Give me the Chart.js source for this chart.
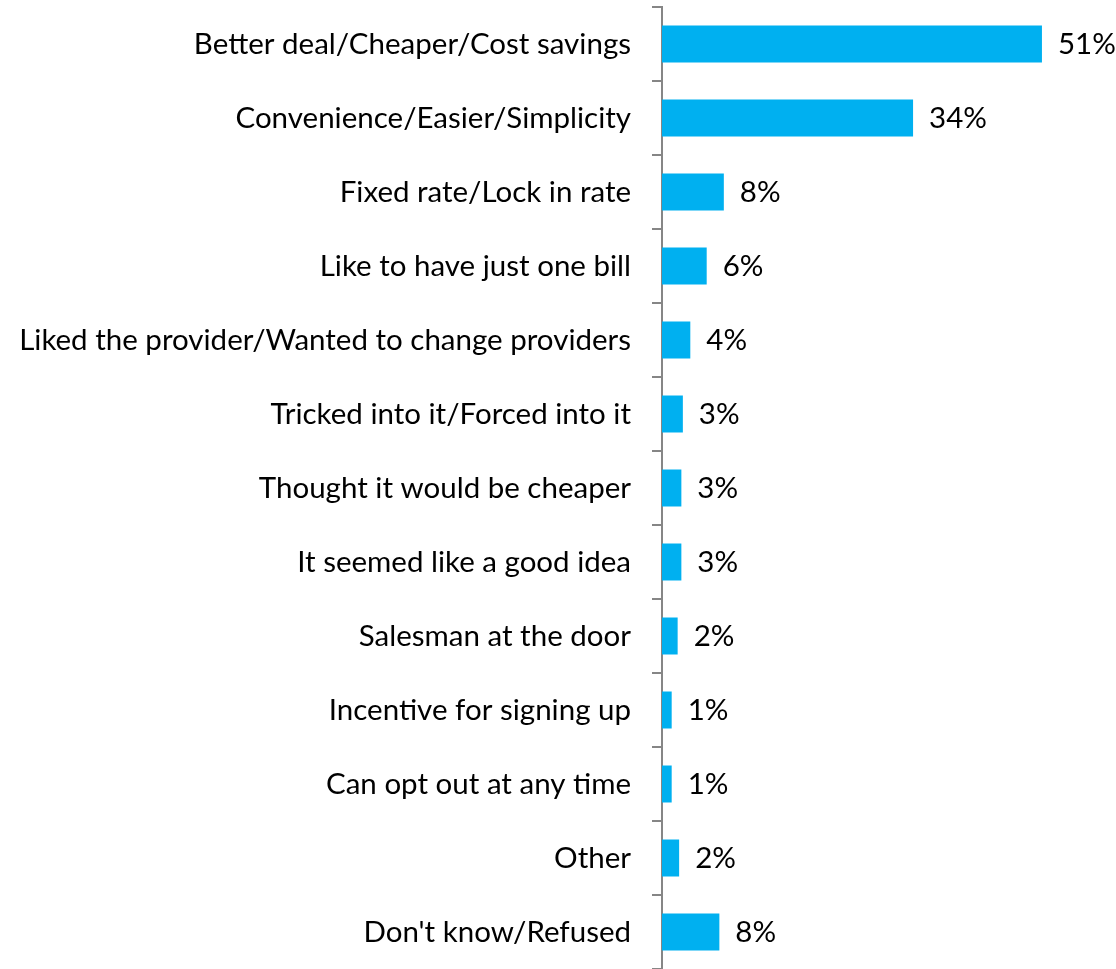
<!DOCTYPE html>
<html>
<head>
<meta charset="utf-8">
<script src="https://cdn.jsdelivr.net/npm/chart.js@4.4.0/dist/chart.umd.min.js"></script>
<style>
  html, body { margin: 0; padding: 0; background: #ffffff; }
  #wrap { position: relative; width: 1116px; height: 969px; }
</style>
</head>
<body>
<div id="wrap"><canvas id="c"></canvas></div>
<script>
const categories = [
  "Better deal/Cheaper/Cost savings",
  "Convenience/Easier/Simplicity",
  "Fixed rate/Lock in rate",
  "Like to have just one bill",
  "Liked the provider/Wanted to change providers",
  "Tricked into it/Forced into it",
  "Thought it would be cheaper",
  "It seemed like a good idea",
  "Salesman at the door",
  "Incentive for signing up",
  "Can opt out at any time",
  "Other",
  "Don't know/Refused"
];
const values = [51.0, 33.7, 8.3, 6.0, 3.8, 2.8, 2.6, 2.6, 2.1, 1.3, 1.3, 2.3, 7.7];
const valueLabels = ["51%", "34%", "8%", "6%", "4%", "3%", "3%", "3%", "2%", "1%", "1%", "2%", "8%"];

const FONT_FAMILY = "Lato, 'Open Sans', sans-serif";
// pick a font size so the longest category label spans ~615px like the reference
const mc = document.createElement('canvas').getContext('2d');
let fontSize = 28;
for (let s = 34; s >= 18; s -= 0.5) {
  mc.font = s + "px " + FONT_FAMILY;
  if (mc.measureText(categories[4]).width <= 616) { fontSize = s; break; }
}

const valueLabelPlugin = {
  id: 'valueLabels',
  afterDatasetsDraw(chart) {
    const ctx = chart.ctx;
    const meta = chart.getDatasetMeta(0);
    ctx.save();
    ctx.font = fontSize + "px " + FONT_FAMILY;
    ctx.fillStyle = "#000000";
    ctx.textAlign = "left";
    ctx.textBaseline = "middle";
    meta.data.forEach((bar, i) => {
      ctx.fillText(valueLabels[i], bar.x + 16, bar.y);
    });
    ctx.restore();
  }
};

new Chart(document.getElementById('c'), {
  type: 'bar',
  data: {
    labels: categories,
    datasets: [{
      data: values,
      backgroundColor: "#00B0F0",
      borderWidth: 0,
      categoryPercentage: 1.0,
      barPercentage: 0.5
    }]
  },
  options: {
    indexAxis: 'y',
    responsive: true,
    maintainAspectRatio: false,
    animation: false,
    layout: { padding: { top: 7, right: 7, bottom: 0, left: 0 } },
    plugins: { legend: { display: false }, tooltip: { enabled: false } },
    scales: {
      x: { display: false, min: 0, max: 60 },
      y: {
        afterFit(scale) {
          scale.width = 662;
          scale.paddingTop = 0;
          scale.paddingBottom = 0;
        },
        grid: {
          display: true,
          offset: true,
          drawOnChartArea: false,
          drawTicks: true,
          tickLength: 10,
          color: "#868686",
          lineWidth: 2
        },
        border: { display: true, color: "#868686", width: 2 },
        ticks: {
          padding: 21,
          color: "#000000",
          font: { family: FONT_FAMILY, size: fontSize }
        }
      }
    }
  },
  plugins: [valueLabelPlugin]
});
</script>
</body>
</html>
